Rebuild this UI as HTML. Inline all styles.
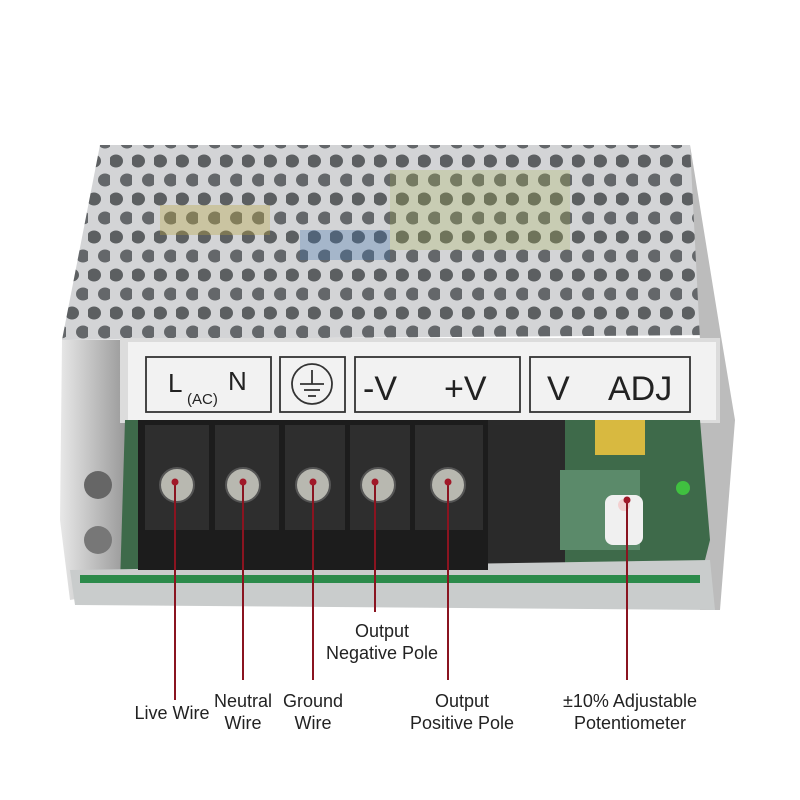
<!DOCTYPE html>
<html><head><meta charset="utf-8"><style>
html,body{margin:0;padding:0;background:#fff;}
.wrap{position:relative;width:800px;height:800px;overflow:hidden;background:#fff;font-family:"Liberation Sans","Noto Sans CJK SC",sans-serif;}
.lbl{position:absolute;font-size:18px;color:#222;text-align:center;line-height:22px;white-space:nowrap;transform:translateX(-50%);}
</style></head><body><div class="wrap">
<svg width="800" height="800" style="position:absolute;left:0;top:0">
<defs>
<pattern id="holes" x="0" y="0" width="22" height="38" patternUnits="userSpaceOnUse">
<rect width="22" height="38" fill="#d3d4d6"/>
<ellipse cx="6" cy="9" rx="7" ry="6.5" fill="#5c5f61"/>
<ellipse cx="17" cy="28" rx="7" ry="6.5" fill="#64676a"/>
</pattern>
<linearGradient id="side" x1="0" x2="1"><stop offset="0" stop-color="#e8e8e8"/><stop offset="1" stop-color="#9a9a9a"/></linearGradient>
</defs>
<polygon points="100,145 690,145 715,335 62,340" fill="url(#holes)"/>
<rect x="160" y="205" width="110" height="30" fill="#b9a640" opacity="0.35"/>
<rect x="300" y="230" width="90" height="30" fill="#3b6fb0" opacity="0.3"/>
<rect x="390" y="170" width="180" height="80" fill="#a7b24a" opacity="0.25"/>
<polygon points="62,340 125,340 125,590 70,600 60,520" fill="url(#side)"/>
<polygon points="690,145 720,330 735,420 720,610 700,610 700,340" fill="#bcbcbc"/>
<rect x="120" y="338" width="600" height="85" fill="#dcdcdc"/>
<rect x="128" y="342" width="588" height="78" fill="#f2f2f2"/>
<g fill="none" stroke="#333" stroke-width="1.8">
<rect x="146" y="357" width="125" height="55"/>
<rect x="280" y="357" width="65" height="55"/>
<rect x="355" y="357" width="165" height="55"/>
<rect x="530" y="357" width="160" height="55"/>
<circle cx="312" cy="384" r="20"/>
<line x1="312" y1="370" x2="312" y2="384"/><line x1="300" y1="384" x2="324" y2="384"/>
<line x1="304" y1="390" x2="320" y2="390"/><line x1="308" y1="396" x2="316" y2="396"/>
</g>
<g font-family="Liberation Sans, sans-serif" fill="#222">
<text x="168" y="392" font-size="26">L</text><text x="228" y="390" font-size="26">N</text>
<text x="187" y="404" font-size="15">(AC)</text>
<text x="363" y="400" font-size="34">-V</text><text x="444" y="400" font-size="34">+V</text>
<text x="547" y="400" font-size="34">V</text><text x="608" y="400" font-size="34">ADJ</text>
</g>
<polygon points="125,420 700,420 710,540 700,580 120,585" fill="#3e6a4a"/>
<rect x="485" y="420" width="80" height="150" fill="#2a2a2a"/>
<rect x="595" y="420" width="50" height="35" fill="#d8b940"/>
<rect x="560" y="470" width="80" height="80" fill="#5b8a6a"/>
<circle cx="683" cy="488" r="7" fill="#40c040"/>
<rect x="605" y="495" width="38" height="50" rx="8" fill="#f0f0f0"/>
<circle cx="624" cy="505" r="6" fill="#f3d0d0"/>
<polygon points="70,570 710,560 715,610 75,605" fill="#c9cccc"/>
<rect x="80" y="575" width="620" height="8" fill="#2b8a4a"/>
<circle cx="98" cy="485" r="14" fill="#666"/><circle cx="98" cy="540" r="14" fill="#777"/>
<rect x="138" y="420" width="350" height="150" fill="#1c1c1c"/>
<g fill="#2e2e2e">
<rect x="145" y="425" width="64" height="105"/><rect x="215" y="425" width="64" height="105"/>
<rect x="285" y="425" width="60" height="105"/><rect x="350" y="425" width="60" height="105"/>
<rect x="415" y="425" width="68" height="105"/>
</g>
<g fill="#b8b8b0" stroke="#555" stroke-width="2">
<circle cx="177" cy="485" r="17"/><circle cx="243" cy="485" r="17"/><circle cx="313" cy="485" r="17"/>
<circle cx="378" cy="485" r="17"/><circle cx="448" cy="485" r="17"/>
</g>
<g stroke="#8a1420" stroke-width="2">
<line x1="175" y1="482" x2="175" y2="700"/>
<line x1="243" y1="482" x2="243" y2="680"/>
<line x1="313" y1="482" x2="313" y2="680"/>
<line x1="375" y1="482" x2="375" y2="612"/>
<line x1="448" y1="482" x2="448" y2="680"/>
<line x1="627" y1="500" x2="627" y2="680"/>
</g>
<g fill="#a01828">
<circle cx="175" cy="482" r="3.5"/><circle cx="243" cy="482" r="3.5"/><circle cx="313" cy="482" r="3.5"/>
<circle cx="375" cy="482" r="3.5"/><circle cx="448" cy="482" r="3.5"/><circle cx="627" cy="500" r="3.5"/>
</g>
</svg>
<div class="lbl" style="left:172px;top:702px">Live Wire</div>
<div class="lbl" style="left:243px;top:690px">Neutral<br>Wire</div>
<div class="lbl" style="left:313px;top:690px">Ground<br>Wire</div>
<div class="lbl" style="left:382px;top:620px">Output<br>Negative Pole</div>
<div class="lbl" style="left:462px;top:690px">Output<br>Positive Pole</div>
<div class="lbl" style="left:630px;top:690px">±10% Adjustable<br>Potentiometer</div>
</div></body></html>
